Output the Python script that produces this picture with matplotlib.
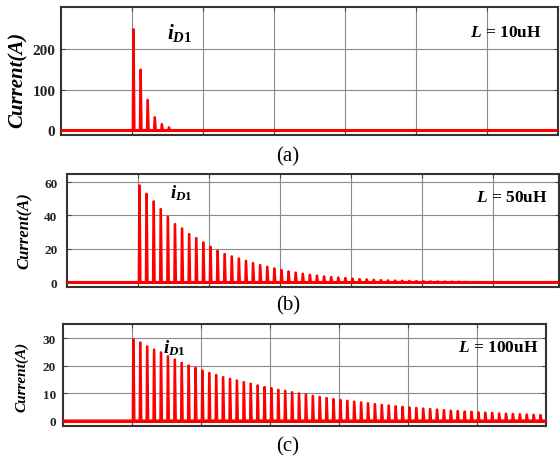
import numpy as np
import matplotlib
matplotlib.use('agg')
import matplotlib.pyplot as plt

plt.rcParams['font.family'] = 'Liberation Serif'
plt.rcParams['mathtext.fontset'] = 'custom'
plt.rcParams['mathtext.it'] = 'Liberation Serif:italic:bold'
plt.rcParams['mathtext.rm'] = 'Liberation Serif:bold'
plt.rcParams['mathtext.bf'] = 'Liberation Serif:bold'

#================================================================
# peak current of each diode pulse (A)
peaks_a = [250, 150, 75, 32, 15, 7]
peaks_b = [58, 53, 48.4, 43.8, 39.2, 34.8, 32.2, 28.8, 26.4, 23.8, 21.2, 18.8,
           16.8, 15.4, 14.2, 12.8, 11.4, 10.2, 9.2, 8.2, 7.2, 6.4, 5.7, 5.0,
           4.4, 3.9, 3.4, 3.0, 2.7, 2.4, 2.1, 1.8, 1.6, 1.4, 1.2, 1.0, 0.9,
           0.8, 0.7, 0.6, 0.5, 0.4, 0.35, 0.3, 0.25, 0.2, 0.15]
peaks_c = [29.6, 28.4, 27.0, 25.8, 24.8, 23.4, 22.2, 21.0, 20.0, 19.2, 18.2,
           17.3, 16.6, 15.8, 15.2, 14.6, 14.0, 13.4, 12.8, 12.2, 11.8, 11.2,
           10.8, 10.3, 9.9, 9.5, 9.0, 8.6, 8.2, 7.8, 7.5, 7.2, 6.9, 6.6, 6.3,
           6.0, 5.7, 5.5, 5.2, 5.0, 4.8, 4.6, 4.4, 4.2, 4.0, 3.8, 3.6, 3.5,
           3.3, 3.2, 3.0, 2.9, 2.8, 2.6, 2.5, 2.4, 2.3, 2.2, 2.1, 2.0]

yticks_a = [0, 100, 200]
yticks_b = [0, 20, 40, 60]
yticks_c = [0, 10, 20, 30]
inductance = ['10uH', '50uH', '100uH']
panel_tags = ['(a)', '(b)', '(c)']

t_start = 1.02     # first pulse (grid divisions)
period = 0.1       # switching period (grid divisions)


def waveform(peaks, tend):
    t = [0.0]
    y = [0.0]
    for k, p in enumerate(peaks):
        tk = t_start + k*period
        t += [tk - 0.01, tk - 0.003, tk + 0.004, tk + 0.016]
        y += [0.0, p, p, 0.0]
    t.append(tend)
    y.append(0.0)
    return np.array(t), np.array(y)


fig = plt.figure(figsize=(5.6, 4.6), dpi=100)

W, H = 560., 460.
# (left, top, right, bottom) in pixels
boxes = [(61, 8, 558, 136), (67, 175, 559, 288), (63, 325, 546, 427)]
ylims = [(-12, 305), (-3, 64.8), (-2, 35.1)]
xmaxs = [7.0, 492/71., 7.0]
tick_fs = [11, 9.5, 9.5]
tick_pad = [4, 7, 5]
ylab = [(18, 80, 15), (25, 231, 12), (22, 377, 11)]
idpos = [(167, 33, 15), (170, 193, 13.5), (163, 348, 13.5)]
lpos = [(542, 33), (548, 198), (538, 348)]
tagpos = [157, 306, 447]
allpeaks = [peaks_a, peaks_b, peaks_c]
allticks = [yticks_a, yticks_b, yticks_c]

for i in range(3):
    l, t, r, b = boxes[i]
    ax = fig.add_axes([l/W, 1 - b/H, (r - l)/W, (b - t)/H])
    tt, yy = waveform(allpeaks[i], xmaxs[i])
    ax.plot(tt, yy, color='#ff0000', lw=1.5, zorder=3)
    ax.plot([0, xmaxs[i]], [0, 0], color='#ff0000', lw=2.2, zorder=3)

    ax.set_xlim(0, xmaxs[i])
    ax.set_ylim(*ylims[i])
    ax.set_xticks(range(1, 7))
    ax.set_xticklabels([])
    ax.set_yticks(allticks[i])
    ax.set_yticklabels([str(v) for v in allticks[i]], fontweight='bold',
                       fontsize=tick_fs[i], color='#222222')
    ax.tick_params(direction='in', top=True, right=True, length=3,
                   width=0.8, color='#444444', pad=tick_pad[i])
    ax.grid(True, color='#8a8a8a', lw=0.8, zorder=0)
    for s in ax.spines.values():
        s.set_linewidth(1.5)
        s.set_color('#333333')

    # labels
    x, y, fs = ylab[i]
    fig.text(x/W, 1 - y/H, 'Current(A)', rotation=90, ha='center', va='center',
             fontsize=fs, fontweight='bold', fontstyle='italic')
    x, y, fs = idpos[i]
    fig.text(x/W, 1 - y/H, r'$i_{D1}$', ha='left', va='center', fontsize=fs)
    x, y = lpos[i]
    fig.text(x/W, 1 - y/H, r'$L$ = ' + inductance[i], ha='right', va='center',
             fontsize=12.5, fontweight='bold')
    fig.text(288/W, 1 - tagpos[i]/H, panel_tags[i], ha='center', va='center',
             fontsize=15)

plt.savefig('out.png', dpi=100)
plt.close('all')
